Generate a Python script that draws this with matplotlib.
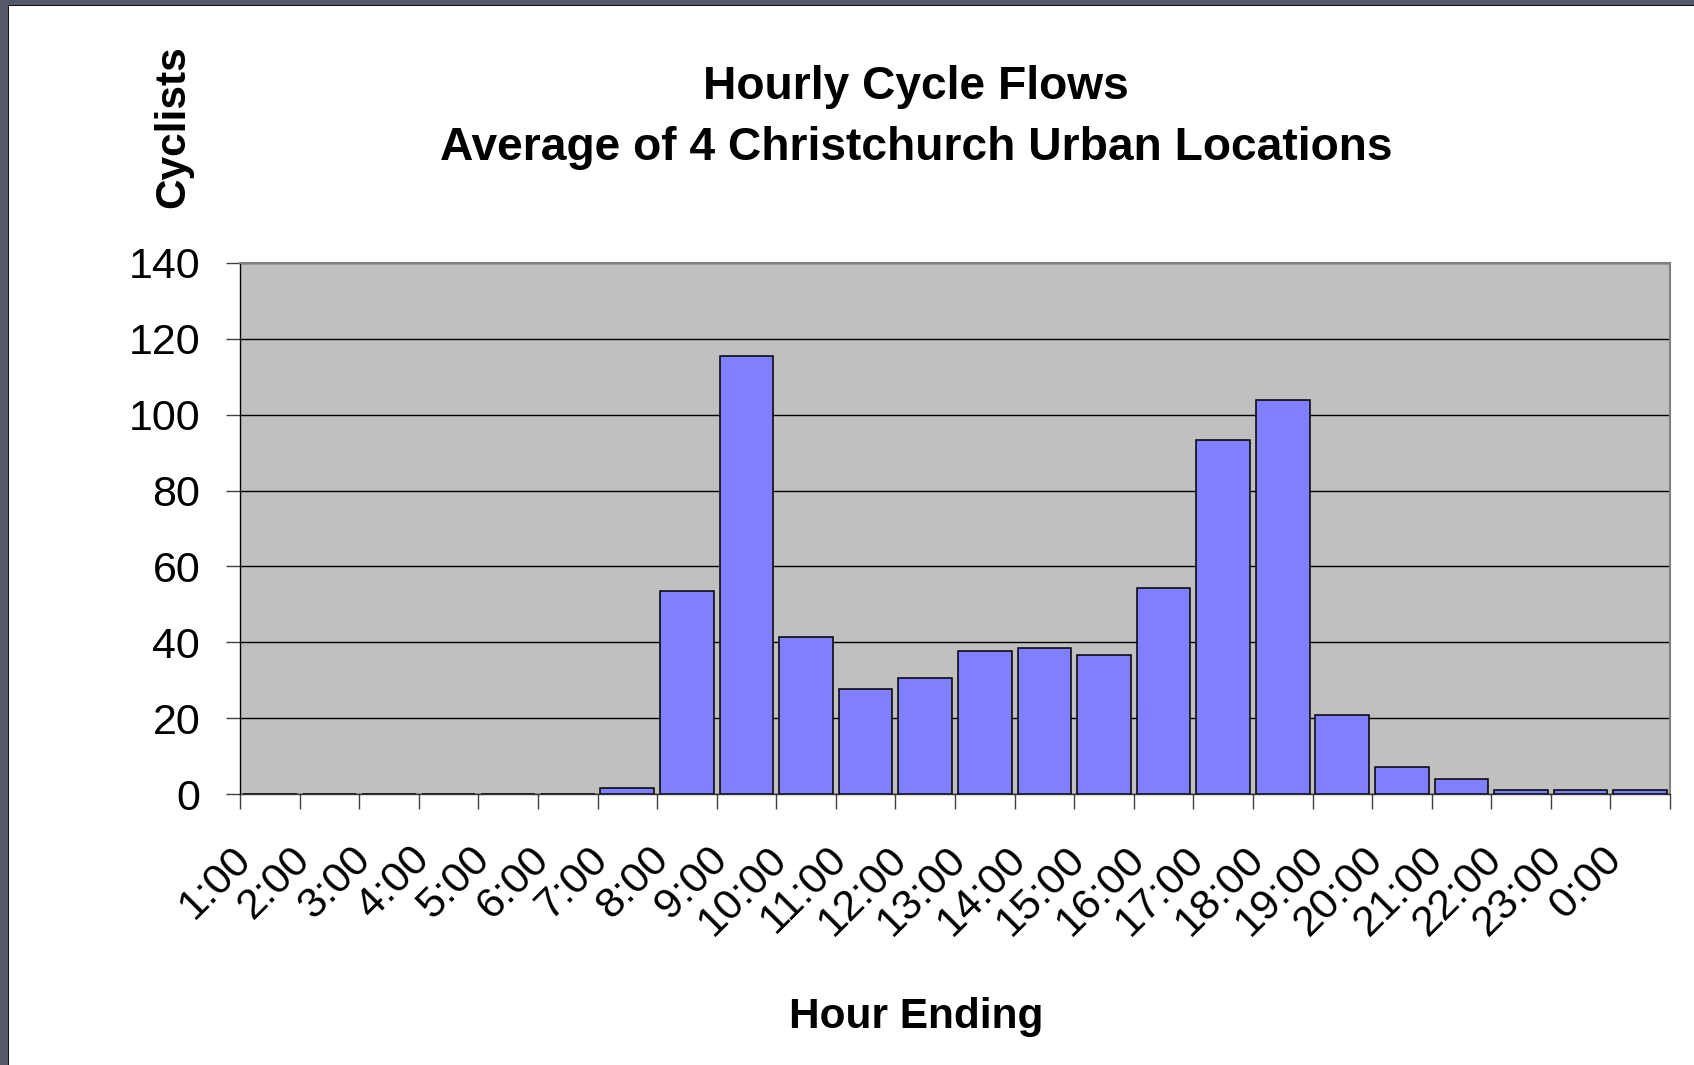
import numpy as np
import matplotlib
matplotlib.use("Agg")
import matplotlib.pyplot as plt
from matplotlib.patches import Rectangle
from matplotlib.transforms import ScaledTranslation

hours = ["1:00", "2:00", "3:00", "4:00", "5:00", "6:00", "7:00", "8:00",
         "9:00", "10:00", "11:00", "12:00", "13:00", "14:00", "15:00", "16:00",
         "17:00", "18:00", "19:00", "20:00", "21:00", "22:00", "23:00", "0:00"]
cyclists = [0, 0, 0, 0, 0, 0, 1.6, 53.5,
            115.5, 41.3, 27.6, 30.7, 37.6, 38.4, 36.7, 54.3,
            93.3, 104.0, 20.7, 7.0, 3.9, 1.0, 1.0, 1.0]
y_ticks = [0, 20, 40, 60, 80, 100, 120, 140]

plt.rcParams.update({
    'font.family': ['Liberation Sans', 'DejaVu Sans'],
    'axes.linewidth': 1.0,
})

W, H = 1694, 1065
fig = plt.figure(figsize=(W / 100, H / 100), dpi=100)
fig.patch.set_facecolor('white')

# plot area in pixels (left, top, right, bottom from top-left)
L, T, R, B = 240, 263, 1670, 794
ax = fig.add_axes([L / W, 1 - B / H, (R - L) / W, (B - T) / H])
ax.set_facecolor('#C0C0C0')

x = np.arange(len(hours))
ax.bar(x, cyclists, width=0.9, color='#8080FF', edgecolor='black',
       linewidth=1.1, zorder=3)

ax.set_xlim(-0.5, len(hours) - 0.5)
ax.set_ylim(0, 140)
ax.set_yticks(y_ticks)
ax.yaxis.grid(True, color='black', linewidth=1.0, zorder=0)
ax.set_axisbelow(True)

# ticks on category boundaries, labels at centres
ax.set_xticks(np.arange(len(hours) + 1) - 0.5)
ax.set_xticklabels([])
ax.set_xticks(x, hours, minor=True)
ax.tick_params(axis='x', which='major', direction='out', length=11,
               width=1.0, color='#404040')
ax.tick_params(axis='x', which='minor', length=0, pad=48, labelsize=31)
ax.tick_params(axis='y', direction='out', length=10, width=1.0,
               color='#404040', pad=18.7, labelsize=31)

shift = ScaledTranslation(-0.17, 0, fig.dpi_scale_trans)
for lab in ax.get_xticklabels(minor=True):
    lab.set_rotation(45)
    lab.set_rotation_mode('anchor')
    lab.set_ha('right')
    lab.set_va('baseline')
    lab.set_transform(lab.get_transform() + shift)

for side in ['top', 'right']:
    ax.spines[side].set_color('#808080')
    ax.spines[side].set_linewidth(1.5)
ax.spines['left'].set_color('black')
ax.spines['bottom'].set_color('#333333')

# titles, placed in figure pixels
def px(xp, yp):
    return xp / W, 1 - yp / H

fig.text(*px(916, 99), "Hourly Cycle Flows", fontsize=33.2, fontweight='bold',
         ha='center', va='baseline')
fig.text(*px(916, 160), "Average of 4 Christchurch Urban Locations",
         fontsize=33.2, fontweight='bold', ha='center', va='baseline')
fig.text(*px(173, 127), "Cyclists", fontsize=30.5, fontweight='bold',
         rotation=90, ha='center', va='center')
fig.text(*px(916, 1028), "Hour Ending", fontsize=30.5, fontweight='bold',
         ha='center', va='baseline')

# dark frame strips on the left and top
fig.patches.append(Rectangle((0, 0), 7.5 / W, 1, transform=fig.transFigure,
                             facecolor='#555869', edgecolor='none'))
fig.patches.append(Rectangle((7.5 / W, 0), 1.5 / W, 1 - 6 / H,
                             transform=fig.transFigure,
                             facecolor='#111111', edgecolor='none'))
fig.patches.append(Rectangle((0, 1 - 5 / H), 1, 5 / H, transform=fig.transFigure,
                             facecolor='#555869', edgecolor='none'))
fig.patches.append(Rectangle((7.5 / W, 1 - 6.3 / H), 1, 1.3 / H,
                             transform=fig.transFigure,
                             facecolor='#111111', edgecolor='none'))

fig.savefig("out.png", dpi=100)
